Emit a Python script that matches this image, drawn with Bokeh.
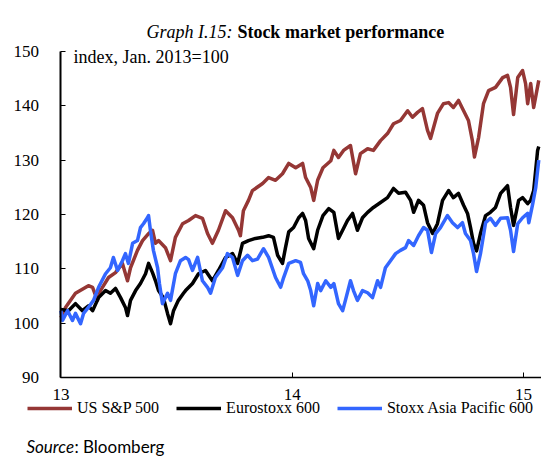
from bokeh.plotting import figure
from bokeh.models import Range1d, FixedTicker, Label, Legend, LegendItem
from bokeh.embed import file_html
from bokeh.resources import INLINE

# time in fractional years (13 = Jan 2013)
sp_t = [13.000, 13.020, 13.063, 13.119, 13.137, 13.158, 13.171, 13.206, 13.236, 13.266,
        13.288, 13.301, 13.331, 13.353, 13.379, 13.396, 13.409, 13.422, 13.452, 13.474,
        13.495, 13.526, 13.552, 13.582, 13.612, 13.634, 13.655, 13.681, 13.712, 13.742,
        13.768, 13.776, 13.789, 13.811, 13.828, 13.872, 13.898, 13.928, 13.958, 13.985,
        14.015, 14.045, 14.058, 14.080, 14.093, 14.110, 14.133, 14.167, 14.180, 14.200,
        14.222, 14.252, 14.274, 14.295, 14.326, 14.351, 14.382, 14.412, 14.438, 14.468,
        14.499, 14.520, 14.542, 14.563, 14.585, 14.598, 14.628, 14.654, 14.676, 14.697,
        14.719, 14.741, 14.762, 14.779, 14.788, 14.806, 14.827, 14.849, 14.879, 14.910,
        14.931, 14.944, 14.957, 14.975, 14.996, 15.009, 15.018, 15.031, 15.044, 15.066]
sp_v = [101.0, 102.9, 105.5, 106.9, 106.6, 104.2, 106.0, 108.4, 109.3, 111.0,
        107.8, 110.2, 113.4, 115.2, 116.5, 117.1, 114.7, 115.2, 113.9, 111.5,
        115.8, 118.3, 118.9, 119.8, 119.3, 116.5, 114.7, 117.1, 120.7, 119.4,
        117.1, 116.1, 120.7, 122.6, 124.4, 125.7, 126.8, 126.3, 127.5, 129.4,
        128.6, 129.4, 126.8, 125.0, 122.6, 126.3, 128.6, 129.9, 131.8, 130.5,
        131.8, 132.7, 127.5, 131.2, 132.1, 131.8, 133.6, 134.9, 136.7, 137.3,
        139.1, 137.9, 138.8, 139.5, 135.5, 134.0, 138.6, 140.4, 140.6, 139.7,
        141.0, 139.1, 137.3, 133.6, 130.6, 134.2, 140.4, 142.8, 143.4, 145.2,
        145.6, 143.4, 138.4, 145.2, 146.5, 144.1, 140.4, 144.1, 139.7, 144.7]

eu_t = [13.000, 13.033, 13.063, 13.093, 13.119, 13.137, 13.163, 13.193, 13.214, 13.236,
        13.258, 13.279, 13.288, 13.301, 13.323, 13.344, 13.366, 13.379, 13.396, 13.409,
        13.422, 13.443, 13.461, 13.474, 13.487, 13.508, 13.530, 13.539, 13.569, 13.595,
        13.625, 13.655, 13.681, 13.712, 13.742, 13.764, 13.785, 13.811, 13.841, 13.872,
        13.898, 13.919, 13.937, 13.958, 13.971, 13.985, 14.006, 14.028, 14.045, 14.058,
        14.071, 14.093, 14.110, 14.133, 14.158, 14.180, 14.200, 14.218, 14.239, 14.261,
        14.282, 14.304, 14.326, 14.351, 14.382, 14.412, 14.438, 14.460, 14.490, 14.512,
        14.525, 14.546, 14.568, 14.585, 14.607, 14.628, 14.650, 14.676, 14.697, 14.719,
        14.741, 14.758, 14.771, 14.784, 14.797, 14.814, 14.836, 14.857, 14.879, 14.901,
        14.931, 14.944, 14.957, 14.979, 14.996, 15.018, 15.031, 15.044, 15.061, 15.066]
eu_v = [102.5, 102.3, 103.6, 102.3, 103.2, 102.3, 104.7, 106.0, 105.5, 106.4,
        104.7, 102.9, 101.4, 104.2, 106.0, 107.3, 109.1, 111.0, 109.3, 107.8,
        106.0, 104.7, 101.8, 99.9, 102.3, 104.2, 105.5, 106.0, 107.3, 109.1,
        109.7, 107.8, 109.7, 112.1, 112.8, 111.0, 114.7, 115.2, 115.6, 115.8,
        116.1, 115.8, 112.5, 111.0, 113.9, 116.8, 117.6, 119.4, 120.2, 118.9,
        115.6, 113.7, 117.1, 119.8, 121.1, 120.4, 115.6, 117.1, 118.9, 120.2,
        117.1, 119.4, 120.4, 121.3, 122.2, 123.1, 124.8, 123.9, 124.1, 122.6,
        120.4, 122.6, 121.7, 118.5, 116.5, 118.3, 122.6, 124.4, 123.1, 123.9,
        121.7, 120.2, 117.6, 114.7, 113.3, 116.5, 119.8, 120.4, 121.3, 123.9,
        125.3, 121.3, 118.0, 122.6, 123.1, 122.0, 122.6, 124.4, 131.8, 132.5]

ap_t = [13.000, 13.007, 13.029, 13.050, 13.063, 13.085, 13.098, 13.119, 13.141, 13.163,
        13.193, 13.214, 13.227, 13.245, 13.266, 13.279, 13.292, 13.310, 13.331, 13.344,
        13.357, 13.374, 13.379, 13.387, 13.400, 13.418, 13.426, 13.439, 13.461, 13.474,
        13.495, 13.517, 13.539, 13.552, 13.569, 13.591, 13.612, 13.634, 13.647, 13.668,
        13.699, 13.720, 13.742, 13.764, 13.785, 13.807, 13.828, 13.850, 13.876, 13.898,
        13.928, 13.950, 13.963, 13.985, 14.015, 14.036, 14.049, 14.067, 14.080, 14.093,
        14.110, 14.123, 14.145, 14.167, 14.180, 14.200, 14.218, 14.230, 14.252, 14.265,
        14.282, 14.304, 14.326, 14.347, 14.369, 14.382, 14.403, 14.425, 14.447, 14.468,
        14.490, 14.503, 14.525, 14.546, 14.568, 14.585, 14.602, 14.620, 14.641, 14.671,
        14.693, 14.715, 14.736, 14.749, 14.771, 14.784, 14.797, 14.814, 14.836, 14.857,
        14.879, 14.901, 14.931, 14.944, 14.957, 14.975, 14.996, 15.018, 15.023, 15.040,
        15.053, 15.066]
ap_v = [102.3, 100.5, 102.3, 100.5, 101.8, 99.9, 101.8, 102.9, 104.2, 106.6,
        109.1, 110.2, 112.1, 109.7, 111.5, 112.8, 111.0, 114.7, 115.2, 117.6,
        118.3, 119.4, 119.8, 117.1, 113.4, 110.2, 107.3, 103.6, 105.5, 104.2,
        109.1, 111.5, 112.1, 111.7, 109.7, 112.1, 107.8, 106.6, 105.5, 108.4,
        110.2, 112.8, 112.1, 108.8, 111.5, 112.5, 111.5, 111.8, 113.7, 112.1,
        108.4, 106.6, 108.4, 111.0, 111.5, 111.2, 109.1, 107.8, 106.0, 103.2,
        107.3, 106.0, 107.8, 106.6, 107.3, 103.6, 102.3, 104.2, 107.8, 106.0,
        104.2, 106.0, 105.6, 104.7, 107.8, 106.6, 110.2, 111.5, 112.8, 113.4,
        113.9, 115.2, 114.3, 116.1, 117.6, 117.1, 113.0, 116.5, 117.6, 119.8,
        118.5, 117.6, 118.5, 116.5, 115.2, 112.8, 109.5, 112.8, 118.5, 119.3,
        118.0, 119.3, 119.4, 117.1, 113.2, 118.3, 119.4, 120.2, 118.5, 122.0,
        125.0, 130.0]

y_ticks = [90, 100, 110, 120, 130, 140, 150]
x_ticks = [13, 14, 15]
series_names = ["US S&P 500", "Eurostoxx 600", "Stoxx Asia Pacific 600"]
colors = ["#953735", "#000000", "#3366FF"]

SERIF = "Liberation Serif"
X0, X1 = 12.7389, 15.0778
Y0, Y1 = 75.46, 159.39

p = figure(width=541, height=456, output_backend="svg", toolbar_location=None,
           x_range=Range1d(X0, X1), y_range=Range1d(Y0, Y1),
           min_border_left=0, min_border_right=0, min_border_top=0, min_border_bottom=0)
p.title.visible = False
p.outline_line_color = None
p.grid.visible = False
p.background_fill_color = "white"
p.border_fill_color = "white"

# axes (placed at the data origin of the chart, limited to the chart's extent)
p.yaxis.fixed_location = 13
p.yaxis.bounds = (90, 150)
p.yaxis.ticker = FixedTicker(ticks=y_ticks)
p.yaxis.axis_line_width = 2
p.yaxis.major_tick_in = 5
p.yaxis.major_tick_out = 0
p.yaxis.major_tick_line_width = 1
p.yaxis.minor_tick_line_color = None
p.yaxis.major_label_standoff = 22
p.yaxis.major_label_text_font = SERIF
p.yaxis.major_label_text_font_size = "17px"
p.yaxis.major_label_text_color = "black"

p.xaxis.fixed_location = 90
p.xaxis.bounds = (13, X1)
p.xaxis.ticker = FixedTicker(ticks=x_ticks)
p.xaxis.axis_line_width = 1.5
p.xaxis.major_tick_in = 5
p.xaxis.major_tick_out = 0
p.xaxis.major_tick_line_width = 1
p.xaxis.minor_tick_line_color = None
p.xaxis.major_label_standoff = 11
p.xaxis.major_label_text_font = SERIF
p.xaxis.major_label_text_font_size = "17px"
p.xaxis.major_label_text_color = "black"

r1 = p.line(sp_t, sp_v, line_color=colors[0], line_width=3.5, line_join="round")
r2 = p.line(eu_t, eu_v, line_color=colors[1], line_width=3.5, line_join="round")
r3 = p.line(ap_t, ap_v, line_color=colors[2], line_width=3.5, line_join="round")

legend = Legend(items=[LegendItem(label=series_names[0], renderers=[r1]),
                       LegendItem(label=series_names[1], renderers=[r2]),
                       LegendItem(label=series_names[2], renderers=[r3])],
                location=(27, 38), orientation="horizontal",
                padding=0, margin=0, spacing=17, glyph_width=45, glyph_height=20,
                label_height=20, label_standoff=5,
                label_text_font=SERIF, label_text_font_size="16px",
                label_text_color="black",
                border_line_color=None, background_fill_alpha=0)
p.add_layout(legend)

# title (italic + bold)
p.add_layout(Label(x=13.742, y=153.68, text="Graph I.15:", text_align="right",
                   text_baseline="alphabetic", text_font=SERIF, text_font_size="18px",
                   text_font_style="italic", text_color="black"))
p.add_layout(Label(x=13.763, y=153.68, text="Stock market performance", text_align="left",
                   text_baseline="alphabetic", text_font=SERIF, text_font_size="18px",
                   text_font_style="bold", text_color="black"))
# unit label
p.add_layout(Label(x=13.0545, y=148.95, text="index, Jan. 2013=100", text_align="left",
                   text_baseline="alphabetic", text_font=SERIF, text_font_size="18px",
                   text_color="black"))
# source
p.add_layout(Label(x=12.851, y=77.3, text="Source", text_align="left",
                   text_baseline="middle", text_font="Lato", text_font_size="17px",
                   text_font_style="italic", text_color="black"))
p.add_layout(Label(x=13.0585, y=77.3, text=": Bloomberg", text_align="left",
                   text_baseline="middle", text_font="Lato", text_font_size="17px",
                   text_color="black"))

open("out.html", "w").write(file_html(p, INLINE))
